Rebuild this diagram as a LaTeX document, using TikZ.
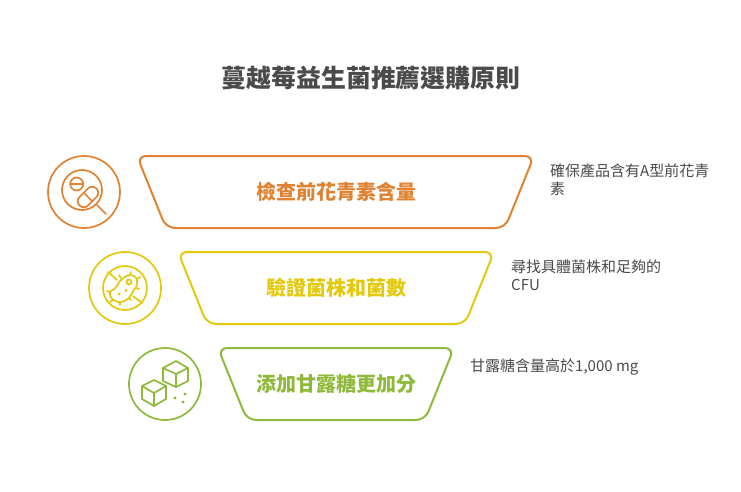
\documentclass[tikz,border=0pt]{standalone}
\usepackage{fontspec}
\setmainfont{Noto Sans CJK TC}
\definecolor{bandorange}{RGB}{224,130,49}
\definecolor{bandyellow}{RGB}{227,201,14}
\definecolor{bandgreen}{RGB}{143,185,58}
\definecolor{textgray}{RGB}{74,74,74}
\tikzset{
  band/.style={line width=2pt,rounded corners=9pt},
  ring/.style={line width=1.7pt},
  glyph/.style={line width=1.7pt,line join=round,line cap=round},
  titletext/.style={font=\fontsize{24.9}{28}\selectfont\bfseries,text=textgray},
  bandtext/.style={font=\fontsize{20}{24}\selectfont\bfseries},
  notetext/.style={font=\fontsize{15}{18}\selectfont,text=textgray,anchor=north west,align=left,inner sep=0pt},
}
\begin{document}
\begin{tikzpicture}[x=1pt,y=-1pt]
\useasboundingbox (0,0) rectangle (741,492);
\node[titletext] (title) at (371,78) {蔓越莓益生菌推薦選購原則};
% bands
\draw[band,bandorange] (137,156) -- (534,156) -- (505,228) -- (166,228) -- cycle;
\draw[band,bandyellow] (178,252) -- (494,252) -- (465,324) -- (207,324) -- cycle;
\draw[band,bandgreen] (218,348) -- (454,348) -- (425,420) -- (247,420) -- cycle;
\node[bandtext,text=bandorange] (check) at (336,192) {檢查前花青素含量};
\node[bandtext,text=bandyellow] (verify) at (336,288) {驗證菌株和菌數};
\node[bandtext,text=bandgreen] (sugar) at (336,384) {添加甘露糖更加分};
% notes
\node[notetext] (checknote) at (550,163.5) {確保產品含有A型前花青\\素};
\node[notetext] (verifynote) at (511,259.5) {尋找具體菌株和足夠的\\CFU};
\node[notetext] (sugarnote) at (470,358.5) {甘露糖含量高於1,000 mg};
% pill icon
\draw[ring,bandorange] (84,192) circle (36);
\begin{scope}[glyph,bandorange]
\draw (82,190) circle (20);
\draw (76.7,184) circle (6.5);
\draw (70.2,184) -- (83.2,184);
\draw[rotate around={45:(88,197)}] (82,191) -- (94,191) arc (-90:90:6) -- (82,203) arc (90:270:6);
\draw (84,193) -- (92,201);
\draw (97,205) -- (106,214);
\end{scope}
% bacteria icon
\draw[ring,bandyellow] (125,288) circle (36);
\begin{scope}[glyph,bandyellow]
\draw (125,288) circle (22);
\draw (108,272) -- (117,280);
\draw (133,296) -- (142,303);
\draw (111,291) .. controls (117,289) and (118,282) .. (122,279) .. controls (127,274) and (135,273) .. (137,280) .. controls (139,286) and (133,290) .. (131,295) .. controls (128,301) and (120,304) .. (115,301) .. controls (111,299) and (108,294) .. (111,291);
\draw (129,282) circle (2.5);
\fill (119,294) circle (1.7);
\fill (126,290.5) circle (1.7);
\draw (121,278) -- (119,275);
\draw (130,275) -- (131,272);
\draw (137,279) -- (140,277);
\draw (136,288) -- (139,289);
\draw (129,298) -- (131,300);
\draw (120,302) -- (120,305);
\draw (113,300) -- (110,302);
\draw (110,292) -- (107,291);
\end{scope}
% sugar icon
\draw[ring,bandgreen] (165,384) circle (36);
\begin{scope}[glyph,bandgreen]
\draw (176,361) -- (188,368) -- (188,381) -- (176,387) -- (163,381) -- (163,368) -- cycle;
\draw (163,368) -- (176,374) -- (188,368);
\draw (176,374) -- (176,387);
\draw (154,380) -- (166,386) -- (166,399) -- (154,406) -- (142,399) -- (142,386) -- cycle;
\draw (142,386) -- (154,393) -- (166,386);
\draw (154,393) -- (154,406);
\fill (175,398) circle (1.7);
\fill (185,394) circle (1.7);
\fill (183,402) circle (1.7);
\end{scope}
\end{tikzpicture}
\end{document}
